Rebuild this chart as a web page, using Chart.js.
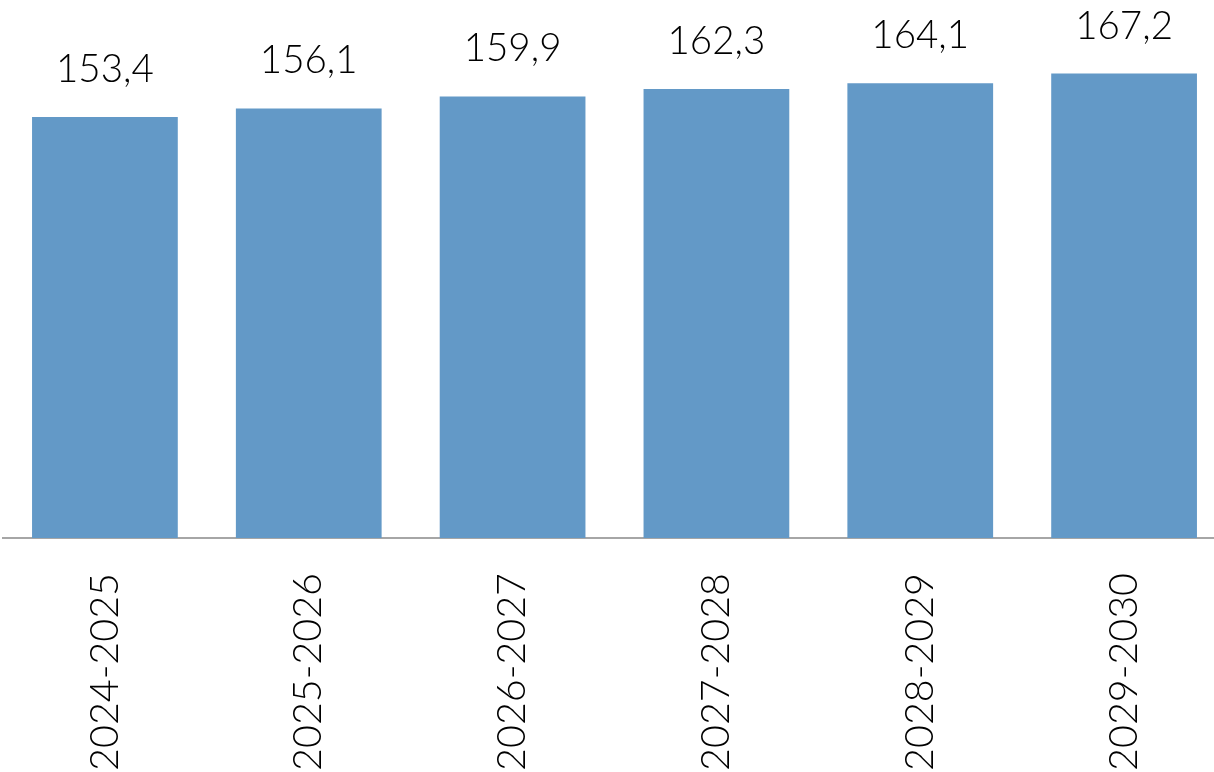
<!DOCTYPE html>
<html>
<head>
<meta charset="utf-8">
<script src="https://cdn.jsdelivr.net/npm/chart.js@4"></script>
<style>
  html, body { margin: 0; padding: 0; background: #fff; overflow: hidden; }
  #wrap { position: absolute; left: 0; top: 0; width: 1226px; height: 772px; }
</style>
</head>
<body>
<div id="wrap"><canvas id="grafico"></canvas></div>
<script>
const ctx = document.getElementById('grafico');
const periodos = ["2024-2025", "2025-2026", "2026-2027", "2027-2028", "2028-2029", "2029-2030"]
const valores = [153.4, 156.1, 159.9, 162.3, 164.1, 167.2]

const fonte = "Lato, 'Open Sans', sans-serif"

// rotulos de valor acima das barras (sem plugin externo)
const rotulos = {
  id: 'rotulos',
  afterDatasetsDraw(chart) {
    const c = chart.ctx
    const meta = chart.getDatasetMeta(0)
    c.save()
    c.font = '300 38.5px ' + fonte
    c.fillStyle = '#000'
    c.textAlign = 'center'
    c.textBaseline = 'alphabetic'
    meta.data.forEach((bar, i) => {
      const txt = valores[i].toFixed(1).replace('.', ',')
      c.fillText(txt, bar.x, bar.y - 35)
    })
    c.restore()
  }
}

new Chart(ctx, {
  type: 'bar',
  data: {
    labels: periodos,
    datasets: [{
      data: valores,
      backgroundColor: '#6399C7',
      barPercentage: 0.715,
      categoryPercentage: 1
    }]
  },
  options: {
    responsive: true,
    maintainAspectRatio: false,
    animation: false,
    layout: { padding: { left: 3, right: 0, top: 0, bottom: 0 } },
    plugins: {
      legend: { display: false },
      tooltip: { enabled: false }
    },
    scales: {
      y: {
        display: false,
        min: 19.2,
        max: 190.65
      },
      x: {
        grid: { display: false },
        border: { display: true, color: '#A6A6A6', width: 2 },
        ticks: {
          color: '#000',
          font: { family: fonte, size: 39.5, weight: 300 },
          minRotation: 90,
          maxRotation: 90,
          padding: 27,
          autoSkip: false
        },
        afterFit(scale) { scale.height = 234 }
      }
    }
  },
  plugins: [rotulos]
})
</script>
</body>
</html>
